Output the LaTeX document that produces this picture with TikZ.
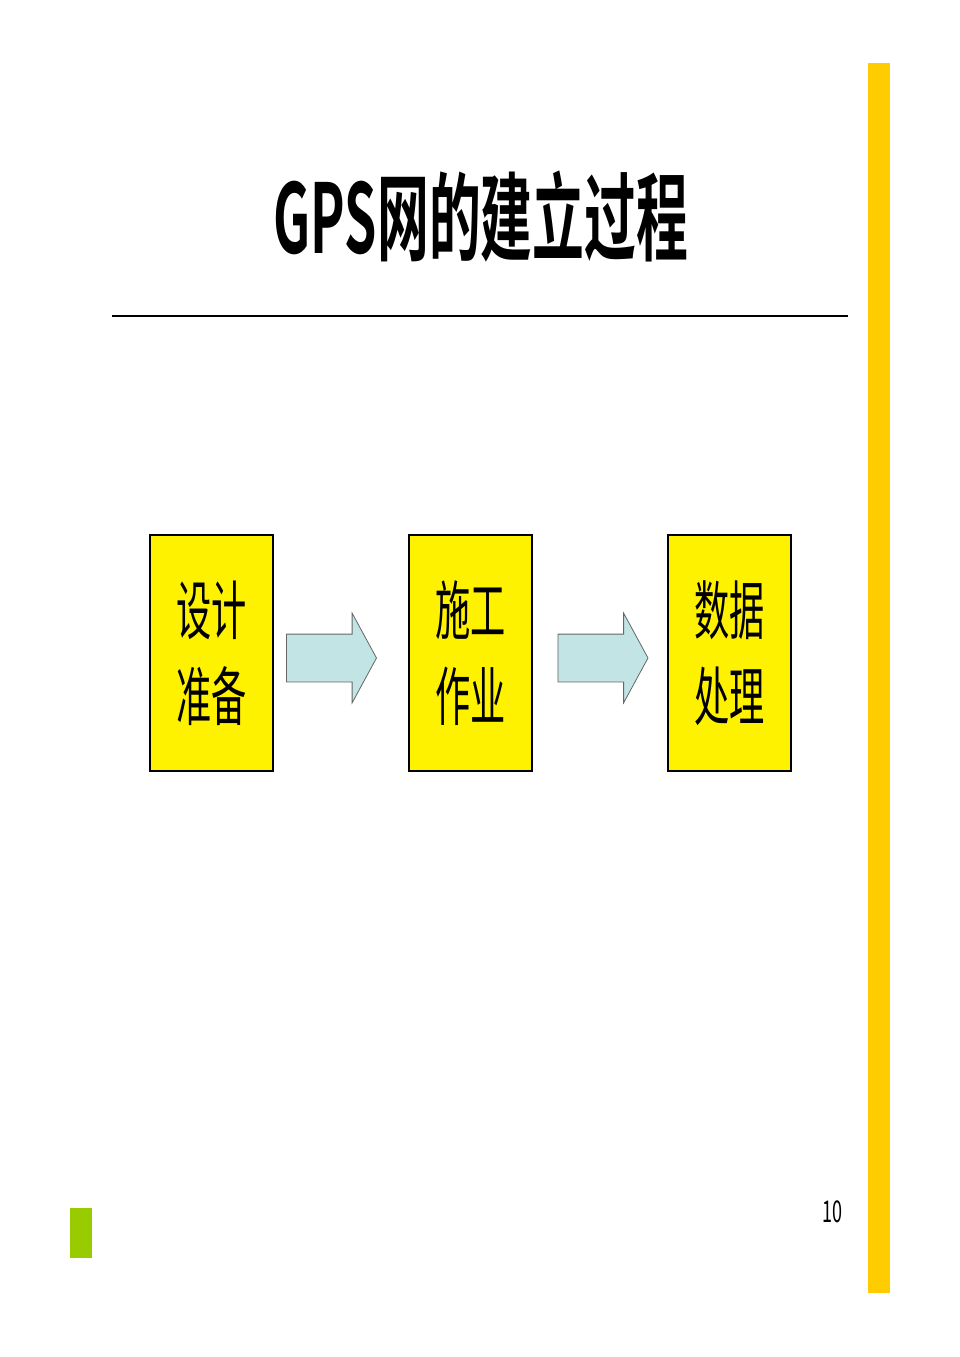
\documentclass[tikz,border=0pt]{standalone}
\usepackage{fontspec}
\newfontfamily\cjk{Noto Sans CJK SC}
\newfontfamily\cjkbold{Noto Sans CJK SC Bold}
\usetikzlibrary{shapes.arrows}
\definecolor{barYellow}{HTML}{FFCC00}
\definecolor{barGreen}{HTML}{99CC00}
\definecolor{arrowCyan}{HTML}{C2E4E4}
\tikzset{
  stepbox/.style={draw=black, line width=2pt, fill=yellow, minimum width=123pt,
    minimum height=236pt, inner sep=0pt, align=center,
    font=\cjk\fontsize{64}{86}\selectfont},
  flowarrow/.style={single arrow, draw=gray!80!black, fill=arrowCyan, line width=0.8pt,
    minimum height=90pt, inner xsep=0pt, inner ysep=23.5pt, single arrow head extend=21pt,
    single arrow tip angle=123}
}
\newcommand{\narrow}[1]{\scalebox{0.55}[1]{#1}}
\begin{document}
\begin{tikzpicture}[x=1pt, y=-1pt]
    \useasboundingbox (0,0) rectangle (960,1357);
    % side bars
    \fill[barYellow] (868,63) rectangle (890,1293);
    \fill[barGreen] (70,1208) rectangle (92,1258);
    % title
    \node (title) at (481,216) {\cjkbold\fontsize{96}{96}\selectfont\scalebox{0.54}[1]{GPS网的建立过程}};
    \draw[line width=2.5pt] (112,316) -- (848,316);
    % boxes
    \node[stepbox] (design) at (211.5,653) {\narrow{设计}\\\narrow{准备}};
    \node[stepbox] (field) at (470.5,653) {\narrow{施工}\\\narrow{作业}};
    \node[stepbox] (data) at (729.5,653) {\narrow{数据}\\\narrow{处理}};
    % arrows
    \node[flowarrow] (arrowA) at (325,658) {};
    \node[flowarrow] (arrowB) at (596.5,658) {};
    % page number
    \node (pagenum) at (832,1212) {\cjk\fontsize{30}{30}\selectfont\scalebox{0.6}[1]{10}};
\end{tikzpicture}
\end{document}
